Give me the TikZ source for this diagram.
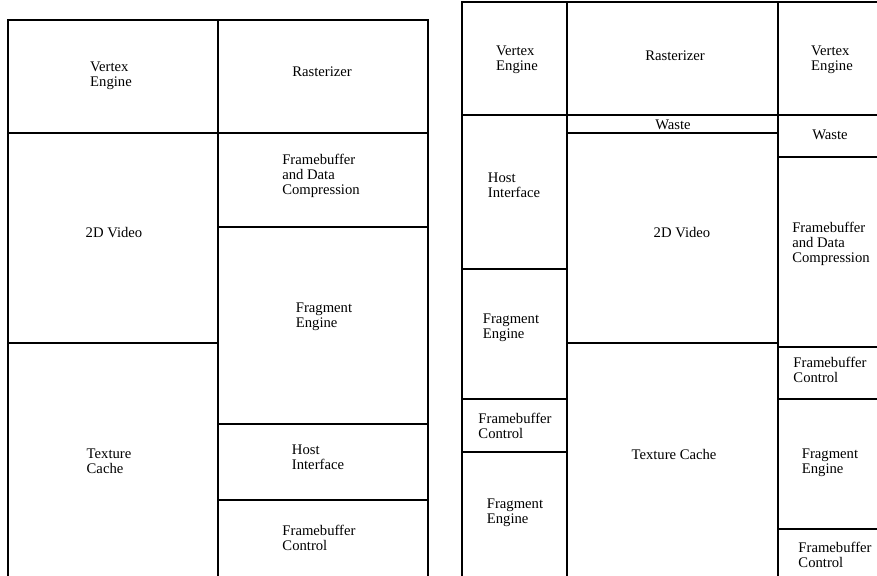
\documentclass[tikz,border=0pt]{standalone}
\usepackage{fontspec}
\setmainfont{Liberation Serif}
\usepackage{tikz}

\begin{document}
\begin{tikzpicture}[
    x=0.75pt, y=-0.75pt,
    blocktext/.style={align=left, inner sep=0pt, font=\fontsize{11}{11}\selectfont},
    blockline/.style={draw=black, line width=0.9pt}
]
    \useasboundingbox (0,0) rectangle (877,575);
    \clip (0,0) rectangle (877,575);

    % --- LEFT FLOORPLAN ---
    \draw[blockline] (8,20) rectangle (218,133);
    \draw[blockline] (218,20) rectangle (428,133);
    \draw[blockline] (8,133) rectangle (218,343);
    \draw[blockline] (218,133) rectangle (428,227);
    \draw[blockline] (218,227) rectangle (428,424);
    \draw[blockline] (8,343) rectangle (218,590);
    \draw[blockline] (218,424) rectangle (428,500);
    \draw[blockline] (218,500) rectangle (428,590);

    \node[blocktext] (lvertex) at (111,76) {Vertex\\Engine};
    \node[blocktext] (lraster) at (322,72) {Rasterizer};
    \node[blocktext] (lfbcomp) at (321,176) {Framebuffer\\and Data\\Compression};
    \node[blocktext] (lvideo) at (114,233) {2D Video};
    \node[blocktext] (lfrag) at (324,317) {Fragment\\Engine};
    \node[blocktext] (ltexture) at (109,461) {Texture\\Cache};
    \node[blocktext] (lhost) at (318,457) {Host\\Interface};
    \node[blocktext] (lfbctrl) at (319,538) {Framebuffer\\Control};

    % --- RIGHT FLOORPLAN ---
    % left column
    \draw[blockline] (462,2) rectangle (567,115);
    \draw[blockline] (462,115) rectangle (567,269);
    \draw[blockline] (462,269) rectangle (567,399);
    \draw[blockline] (462,399) rectangle (567,452);
    \draw[blockline] (462,452) rectangle (567,590);
    % middle column
    \draw[blockline] (567,2) rectangle (778,115);
    \draw[blockline] (567,115) rectangle (778,133);
    \draw[blockline] (567,133) rectangle (778,343);
    \draw[blockline] (567,343) rectangle (778,590);
    % right column
    \draw[blockline] (778,2) rectangle (890,115);
    \draw[blockline] (778,115) rectangle (890,157);
    \draw[blockline] (778,157) rectangle (890,347);
    \draw[blockline] (778,347) rectangle (890,399);
    \draw[blockline] (778,399) rectangle (890,529);
    \draw[blockline] (778,529) rectangle (890,590);

    \node[blocktext] (rvertex) at (517,60) {Vertex\\Engine};
    \node[blocktext] (rhost) at (514,185) {Host\\Interface};
    \node[blocktext] (rfrag) at (511,328) {Fragment\\Engine};
    \node[blocktext] (rfbctrl) at (515,426) {Framebuffer\\Control};
    \node[blocktext] (rfragb) at (515,513) {Fragment\\Engine};

    \node[blocktext] (rraster) at (675,56) {Rasterizer};
    \node[blocktext] (rwaste) at (673,125) {Waste};
    \node[blocktext] (rvideo) at (682,233) {2D Video};
    \node[blocktext] (rtexture) at (674,454) {Texture Cache};

    \node[blocktext] (rvertexb) at (832,60) {Vertex\\Engine};
    \node[blocktext] (rwasteb) at (830,135) {Waste};
    \node[blocktext] (rfbcomp) at (831,244) {Framebuffer\\and Data\\Compression};
    \node[blocktext] (rfbctrlb) at (830,370) {Framebuffer\\Control};
    \node[blocktext] (rfragc) at (830,463) {Fragment\\Engine};
    \node[blocktext] (rfbctrlc) at (835,555) {Framebuffer\\Control};

\end{tikzpicture}
\end{document}
